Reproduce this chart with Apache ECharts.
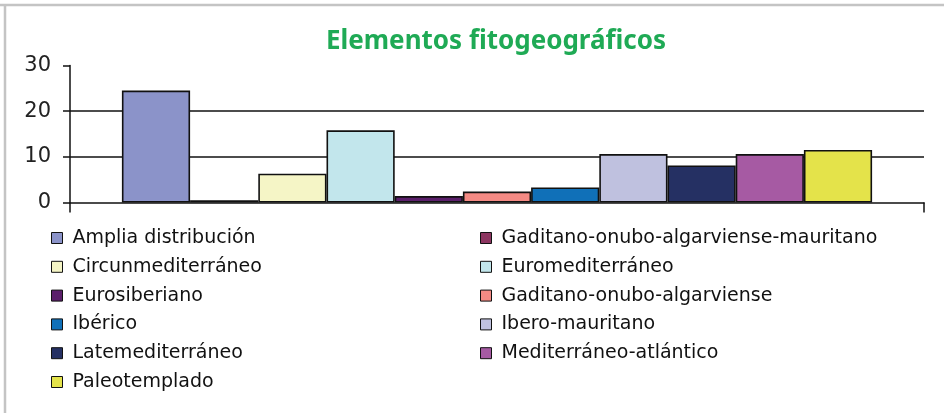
<!DOCTYPE html>
<html>
<head>
<meta charset="utf-8">
<script src="https://cdn.jsdelivr.net/npm/echarts@6/dist/echarts.min.js"></script>
<style>
    html, body {margin: 0; padding: 0; background: #fff;}
    #char1 {width: 944px; height: 413px;}
</style>
</head>
<body>
<div id="char1"></div>
<script>
// datos
var nombres = ['Amplia distribución', 'Gaditano-onubo-algarviense-mauritano', 'Circunmediterráneo',
    'Euromediterráneo', 'Eurosiberiano', 'Gaditano-onubo-algarviense', 'Ibérico',
    'Ibero-mauritano', 'Latemediterráneo', 'Mediterráneo-atlántico', 'Paleotemplado'];
var valores = [24.5, 0.5, 6.3, 15.8, 1.4, 2.4, 3.3, 10.6, 8.1, 10.6, 11.5];
var colores = ['#8b93c9', '#8c3560', '#f5f5c6', '#c2e6ec', '#5b1f6b', '#f48a84', '#1070b8',
    '#bfc1df', '#253063', '#a65aa3', '#e4e34a'];
var ticksY = [0, 10, 20, 30];

char1();

function char1() {
    var myChart = echarts.init(document.getElementById('char1'));

    var series = nombres.map(function (n, i) {
        return {
            name: n,
            type: 'bar',
            barWidth: 68.2,
            barGap: '0%',
            itemStyle: {color: colores[i], borderColor: '#111', borderWidth: 1.6},
            data: [valores[i]]
        };
    });

    var legendText = {color: '#111', fontFamily: 'DejaVu Sans', fontSize: 19, lineHeight: 20, padding: [0, 0, 0, 5]};

    var option = {
        animation: false,
        graphic: [
            {type: 'line', shape: {x1: 0, y1: 5, x2: 944, y2: 5}, style: {stroke: '#c4c4c4', lineWidth: 2.5}},
            {type: 'line', shape: {x1: 5, y1: 4, x2: 5, y2: 413}, style: {stroke: '#c4c4c4', lineWidth: 2.5}},
            {
                type: 'text', x: 496, y: 42,
                style: {
                    text: 'Elementos fitogeográficos', fill: '#1faa55',
                    font: 'bold 26px "Noto Sans"', textAlign: 'center', textVerticalAlign: 'middle'
                }
            }
        ],
        grid: {left: 70, right: 20, top: 65.5, bottom: 210.5},
        legend: [
            {
                orient: 'vertical', left: 46, top: 223, itemGap: 8.8,
                itemWidth: 11, itemHeight: 11, icon: 'rect',
                itemStyle: {borderColor: '#111', borderWidth: 1},
                textStyle: legendText,
                data: nombres.filter(function (n, i) { return i % 2 === 0; })
            },
            {
                orient: 'vertical', left: 475, top: 223, itemGap: 8.8,
                itemWidth: 11, itemHeight: 11, icon: 'rect',
                itemStyle: {borderColor: '#111', borderWidth: 1},
                textStyle: legendText,
                data: nombres.filter(function (n, i) { return i % 2 === 1; })
            }
        ],
        xAxis: {
            type: 'category',
            data: [''],
            axisLine: {lineStyle: {color: '#111', width: 1.5}},
            axisTick: {show: true, length: 10, lineStyle: {color: '#111', width: 1.5}},
            axisLabel: {show: false}
        },
        yAxis: {
            type: 'value',
            min: ticksY[0],
            max: ticksY[ticksY.length - 1],
            interval: 10,
            axisLine: {show: true, lineStyle: {color: '#111', width: 1.5}},
            axisTick: {show: true, length: 7, lineStyle: {color: '#111', width: 1.5}},
            axisLabel: {color: '#222', fontFamily: 'DejaVu Sans', fontSize: 21, margin: 19},
            splitLine: {show: true, showMinLine: false, showMaxLine: false, lineStyle: {color: '#111', width: 1.5}}
        },
        series: series
    };

    myChart.setOption(option);
    window.addEventListener('resize', function () {
        myChart.resize();
    });
}
</script>
</body>
</html>
